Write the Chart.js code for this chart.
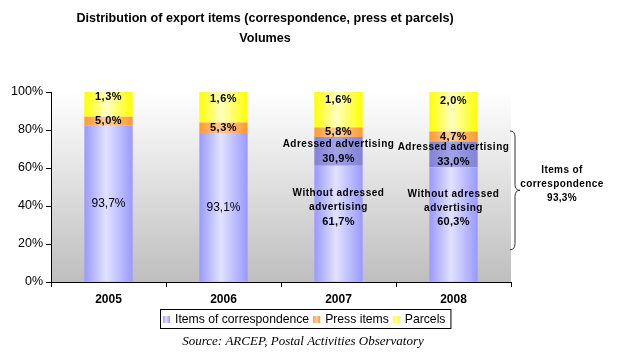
<!DOCTYPE html>
<html lang="en">
<head>
<meta charset="UTF-8">
<title>Distribution of export items</title>
<script src="https://cdn.jsdelivr.net/npm/chart.js"></script>
<style>
  body { margin: 0; background: #fff; }
  #wrap { width: 618px; height: 353px; }
</style>
</head>
<body>
<div id="wrap"><canvas id="c" width="618" height="353"></canvas></div>
<script>
// categories
const years = ['2005', '2006', '2007', '2008'];
// segment heights as drawn in the chart (% of bar)
const withoutAdv = [82.3, 78.4, 61.2, 60.4];
const adressedAdv = [0, 0, 15.1, 13.5];
const pressItems = [4.7, 5.6, 5.0, 5.3];
const parcels = [13.0, 16.0, 18.7, 20.8];
// percentages printed on the bars
const corrPct = [93.7, 93.1, 61.7, 60.3];
const adrPct = [null, null, 30.9, 33.0];
const pressPct = [5.0, 5.3, 5.8, 4.7];
const parcelPct = [1.3, 1.6, 1.6, 2.0];
const corrTotal2008 = 93.3;
// brace span on the right (value axis)
const braceFrom = 17, braceTo = 79.5;

const FONT = '"Liberation Sans", Arial, sans-serif';
const catPct = 0.42;

const blueStops = [[0, '#9999ff'], [0.45, '#e2e2ff'], [1, '#9999ff']];
const darkStops = [[0, '#8282d8'], [0.45, '#a2a2ea'], [1, '#8282d8']];
const orangeStops = [[0, '#ff9933'], [0.45, '#ffcf99'], [1, '#ff9933']];
const yellowStops = [[0, '#ffff00'], [0.45, '#ffffc0'], [1, '#ffff00']];

const fmt = v => v.toFixed(1).replace('.', ',') + '%';

function hGrad(chart, i, stops) {
    const xs = chart.scales.x;
    const cx = xs.getPixelForValue(i);
    const w = xs.width / years.length * catPct;
    const g = chart.ctx.createLinearGradient(cx - w / 2, 0, cx + w / 2, 0);
    stops.forEach(s => g.addColorStop(s[0], s[1]));
    return g;
}
function fill(stops) {
    return c => (c.chart.chartArea ? hGrad(c.chart, c.dataIndex, stops) : stops[0][1]);
}

function txt(ctx, s, x, y, font, spacing) {
    ctx.font = font;
    ctx.letterSpacing = (spacing || 0) + 'px';
    ctx.fillText(s, x, y);
    ctx.letterSpacing = '0px';
}

const plotBg = {
    id: 'plotBg',
    beforeDraw(chart) {
        const { ctx, chartArea: a } = chart;
        const g = ctx.createLinearGradient(0, a.top, 0, a.bottom);
        g.addColorStop(0, '#ffffff');
        g.addColorStop(1, '#bebebe');
        ctx.save();
        ctx.fillStyle = g;
        ctx.fillRect(a.left, a.top, a.right - a.left, a.bottom - a.top);
        ctx.restore();
    }
};

const barLabels = {
    id: 'barLabels',
    afterDatasetsDraw(chart) {
        const ctx = chart.ctx;
        const mWo = chart.getDatasetMeta(0), mAd = chart.getDatasetMeta(1);
        const mPr = chart.getDatasetMeta(2), mPa = chart.getDatasetMeta(3);
        const bold = 'bold 11px ' + FONT;
        const small = 'bold 10px ' + FONT;
        ctx.save();
        ctx.fillStyle = '#000';
        ctx.textAlign = 'center';
        ctx.textBaseline = 'middle';
        years.forEach((y, i) => {
            const wo = mWo.data[i], ad = mAd.data[i], pr = mPr.data[i], pa = mPa.data[i];
            const x = wo.x;
            // parcels
            txt(ctx, fmt(parcelPct[i]), x, pa.y + (pa.base - pa.y) * 0.22, bold, 0.5);
            // press
            txt(ctx, fmt(pressPct[i]), x, (pr.y + pr.base) / 2, bold, 0.5);
            if (adrPct[i] == null) {
                txt(ctx, fmt(corrPct[i]), x, (wo.y + wo.base) / 2, '12px ' + FONT, 0);
            } else {
                const cy = (ad.y + ad.base) / 2;
                txt(ctx, 'Adressed advertising', x, cy - 7, small, 0.5);
                txt(ctx, fmt(adrPct[i]), x, cy + 7.5, bold, 0.3);
                const cw = (wo.y + wo.base) / 2 - 16;
                txt(ctx, 'Without adressed', x, cw - 14, small, 0.5);
                txt(ctx, 'advertising', x, cw, small, 0.5);
                txt(ctx, fmt(corrPct[i]), x, cw + 14, bold, 0.3);
            }
        });
        ctx.restore();
    }
};

const extras = {
    id: 'extras',
    afterDraw(chart) {
        const { ctx, chartArea: a } = chart;
        const ys = chart.scales.y;
        ctx.save();
        // title
        ctx.fillStyle = '#000';
        ctx.textAlign = 'center';
        ctx.textBaseline = 'middle';
        txt(ctx, 'Distribution of export items (correspondence, press et parcels)', 265, 19, 'bold 12.6px ' + FONT, 0);
        txt(ctx, 'Volumes', 265, 39, 'bold 12.6px ' + FONT, 0);

        // brace
        const t = ys.getPixelForValue(braceTo), b = ys.getPixelForValue(braceFrom);
        const m = (t + b) / 2, x0 = a.right - 1, x1 = x0 + 5, tip = x0 + 10;
        ctx.strokeStyle = '#333';
        ctx.lineWidth = 1;
        ctx.beginPath();
        ctx.moveTo(x0, t);
        ctx.quadraticCurveTo(x1, t, x1, t + 6);
        ctx.lineTo(x1, m - 6);
        ctx.quadraticCurveTo(x1, m, tip, m);
        ctx.quadraticCurveTo(x1, m, x1, m + 6);
        ctx.lineTo(x1, b - 6);
        ctx.quadraticCurveTo(x1, b, x0, b);
        ctx.stroke();
        const bf = 'bold 10px ' + FONT;
        txt(ctx, 'Items of', 562, m - 20, bf, 0.4);
        txt(ctx, 'correspondence', 562, m - 6, bf, 0.4);
        txt(ctx, fmt(corrTotal2008), 562, m + 8, bf, 0.3);

        // legend
        const items = [['Items of correspondence', blueStops], ['Press items', orangeStops], ['Parcels', yellowStops]];
        ctx.font = '12.2px ' + FONT;
        ctx.textAlign = 'left';
        let x = 163;
        const ly = 319;
        items.forEach(it => {
            const g = ctx.createLinearGradient(x, 0, x + 7, 0);
            it[1].forEach(s => g.addColorStop(s[0], s[1]));
            ctx.fillStyle = g;
            ctx.fillRect(x, ly - 3, 7, 7);
            x += 12;
            ctx.fillStyle = '#000';
            ctx.fillText(it[0], x, ly + 1);
            x += ctx.measureText(it[0]).width + 4;
        });
        ctx.strokeStyle = '#000';
        ctx.strokeRect(160.5, 309.5, x - 160 + 1, 19);

        // source
        ctx.textAlign = 'center';
        txt(ctx, 'Source: ARCEP, Postal Activities Observatory', 303, 342, 'italic 13px "Liberation Serif", "Times New Roman", serif', 0);
        ctx.restore();
    }
};

const ds = (label, data, stops) => ({
    label, data,
    backgroundColor: fill(stops),
    borderWidth: 0,
    barPercentage: 1,
    categoryPercentage: catPct
});

new Chart(document.getElementById('c'), {
    type: 'bar',
    data: {
        labels: years,
        datasets: [
            ds('Items of correspondence', withoutAdv, blueStops),
            ds('Adressed advertising', adressedAdv, darkStops),
            ds('Press items', pressItems, orangeStops),
            ds('Parcels', parcels, yellowStops)
        ]
    },
    options: {
        responsive: false,
        animation: false,
        events: [],
        layout: { padding: { top: 92, right: 107, left: 0, bottom: 0 } },
        plugins: { legend: { display: false }, title: { display: false }, tooltip: { enabled: false } },
        scales: {
            x: {
                stacked: true,
                afterFit: s => { s.height = 71; },
                grid: { drawOnChartArea: false, drawTicks: true, tickLength: 5, color: '#000', offset: true },
                border: { display: true, color: '#000' },
                ticks: { color: '#000', padding: 5, font: { family: FONT, size: 12, weight: 'bold' } }
            },
            y: {
                stacked: true,
                min: 0, max: 100,
                afterFit: s => { s.width = 51; },
                grid: { drawOnChartArea: false, drawTicks: true, tickLength: 5, color: '#000' },
                border: { display: true, color: '#000' },
                ticks: { stepSize: 20, color: '#000', padding: 3, font: { family: FONT, size: 12.5 }, callback: v => v + '%' }
            }
        }
    },
    plugins: [plotBg, barLabels, extras]
});
</script>
</body>
</html>
